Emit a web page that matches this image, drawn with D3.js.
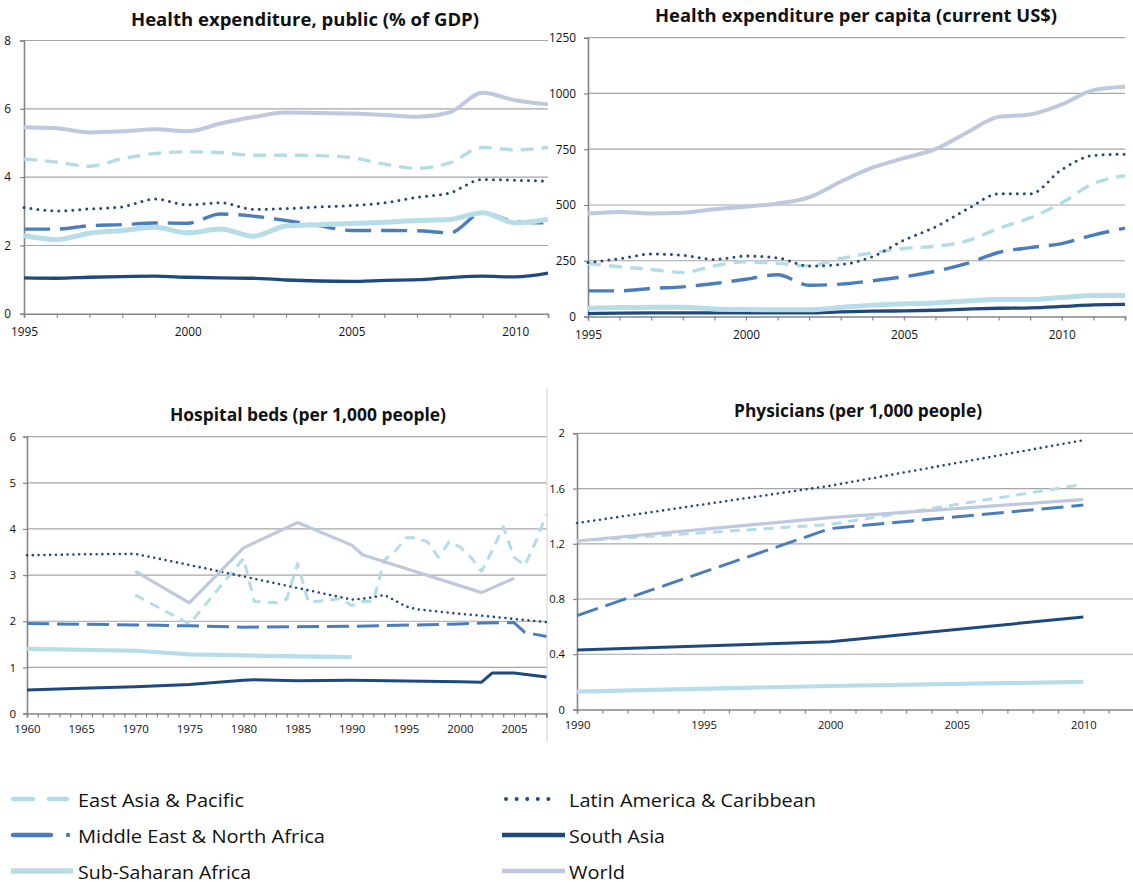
<!DOCTYPE html>
<html><head><meta charset="utf-8">
<script src="https://cdn.jsdelivr.net/npm/d3@7"></script>
<style>
body{margin:0;background:#fff}
svg{display:block}
text{font-family:"Open Sans",sans-serif;fill:#111}
</style>
</head><body>
<svg id="c" width="1133" height="882"></svg>
<script>
// ---------- DATA ----------
const regions = ["East Asia & Pacific","Latin America & Caribbean","Middle East & North Africa","South Asia","Sub-Saharan Africa","World"];

// Panel 1: Health expenditure, public (% of GDP)
const gdpYears = [1995,1996,1997,1998,1999,2000,2001,2002,2003,2004,2005,2006,2007,2008,2009,2010,2011];
const gdpEastAsia   = [4.53,4.44,4.32,4.54,4.69,4.74,4.72,4.64,4.64,4.63,4.57,4.38,4.26,4.42,4.87,4.80,4.87];
const gdpLatin      = [3.11,3.01,3.07,3.13,3.36,3.19,3.25,3.06,3.08,3.13,3.17,3.25,3.41,3.54,3.93,3.91,3.88];
const gdpMidEast    = [2.48,2.48,2.58,2.61,2.66,2.65,2.92,2.86,2.73,2.58,2.44,2.44,2.43,2.37,2.96,2.70,2.66];
const gdpSouthAsia  = [1.05,1.04,1.07,1.09,1.10,1.07,1.05,1.04,0.99,0.96,0.95,0.98,1.00,1.06,1.10,1.08,1.19];
const gdpSubSaharan = [2.29,2.17,2.36,2.44,2.53,2.37,2.48,2.27,2.57,2.61,2.64,2.68,2.73,2.76,2.96,2.66,2.77];
const gdpWorld      = [5.46,5.43,5.31,5.34,5.40,5.34,5.57,5.76,5.89,5.88,5.86,5.82,5.77,5.90,6.47,6.25,6.13];
const gdpYTicks = [0,2,4,6,8];
const gdpXLabels = [1995,2000,2005,2010];

// Panel 2: Health expenditure per capita (current US$)
const pcYears = [1995,1996,1997,1998,1999,2000,2001,2002,2003,2004,2005,2006,2007,2008,2009,2010,2011,2012];
const pcEastAsia   = [238,223,211,197,227,245,238,227,260,285,305,315,339,395,442,510,596,631];
const pcLatin      = [242,259,280,275,256,271,263,226,233,268,342,402,481,550,550,659,722,728];
const pcMidEast    = [115,115,126,133,148,167,187,140,145,160,178,203,238,287,309,327,365,396];
const pcSouthAsia  = [13,15,16,16,16,16,16,16,21,24,25,28,33,37,39,45,52,54];
const pcSubSaharan = [37,40,42,42,34,31,30,30,40,51,57,61,69,76,76,85,94,94];
const pcWorld      = [462,469,462,465,481,492,507,534,604,667,710,750,825,895,906,951,1015,1030];
const pcYTicks = [0,250,500,750,1000,1250];
const pcXLabels = [1995,2000,2005,2010];

// Panel 3: Hospital beds (per 1,000 people)  [year, value]
const bedsEastAsia = [[1970,2.57],[1975,1.94],[1980,3.36],[1981,2.43],[1983,2.40],[1984,2.48],[1985,3.25],[1986,2.41],[1989,2.49],[1990,2.34],[1991,2.43],[1992,2.43],[1993,3.32],[1994,3.51],[1995,3.81],[1996,3.81],[1997,3.72],[1998,3.39],[1999,3.72],[2000,3.61],[2001,3.39],[2002,3.08],[2003,3.54],[2004,4.05],[2005,3.39],[2006,3.21],[2007,3.72],[2008,4.32]];
const bedsLatin = [[1960,3.43],[1965,3.45],[1970,3.46],[1975,3.22],[1980,2.97],[1985,2.72],[1990,2.47],[1991,2.49],[1992,2.52],[1993,2.57],[1994,2.45],[1995,2.32],[1996,2.26],[2000,2.16],[2002,2.12],[2005,2.05],[2008,1.98]];
const bedsMidEast = [[1960,1.95],[1970,1.92],[1975,1.90],[1980,1.87],[1985,1.88],[1990,1.89],[2000,1.94],[2002,1.96],[2005,1.97],[2006,1.76],[2008,1.67]];
const bedsSouthAsia = [[1960,0.51],[1965,0.55],[1970,0.58],[1975,0.63],[1980,0.72],[1981,0.73],[1985,0.71],[1990,0.72],[2000,0.69],[2002,0.68],[2003,0.88],[2005,0.88],[2008,0.79]];
const bedsSubSaharan = [[1960,1.40],[1970,1.36],[1975,1.28],[1980,1.26],[1985,1.24],[1990,1.22]];
const bedsWorld = [[1970,3.08],[1975,2.40],[1980,3.59],[1985,4.14],[1990,3.65],[1991,3.44],[2002,2.62],[2005,2.93]];
const bedsYTicks = [0,1,2,3,4,5,6];
const bedsXLabels = [1960,1965,1970,1975,1980,1985,1990,1995,2000,2005];

// Panel 4: Physicians (per 1,000 people)  [year, value]
const physEastAsia   = [[1990,1.22],[2000,1.34],[2010,1.63]];
const physLatin      = [[1990,1.35],[2000,1.62],[2010,1.95]];
const physMidEast    = [[1990,0.68],[2000,1.31],[2010,1.48]];
const physSouthAsia  = [[1990,0.43],[2000,0.49],[2010,0.67]];
const physSubSaharan = [[1990,0.13],[2000,0.17],[2010,0.20]];
const physWorld      = [[1990,1.22],[2000,1.39],[2010,1.52]];
const physYTicks = [0,0.4,0.8,1.2,1.6,2];
const physXLabels = [1990,1995,2000,2005,2010];

// ---------- STYLES ----------
const colors = ["#B4DCE8","#23497E","#4A7EBB","#1F497D","#B7DEE8","#BEC8DF"];
const stylesBig = [
  {w:3.4, dash:"13,8", cap:"butt"},
  {w:3.0, dash:"0,7", cap:"round"},
  {w:3.4, dash:"26,10", cap:"butt"},
  {w:3.3, dash:null, cap:"butt"},
  {w:5.0, dash:null, cap:"butt"},
  {w:4.0, dash:null, cap:"butt"}
];
const stylesSmall = [
  {w:3.0, dash:"10,7", cap:"butt"},
  {w:2.6, dash:"0,5.8", cap:"round"},
  {w:3.0, dash:"22,8", cap:"butt"},
  {w:3.0, dash:null, cap:"butt"},
  {w:4.2, dash:null, cap:"butt"},
  {w:3.2, dash:null, cap:"butt"}
];

const svg = d3.select("#c");
const zip = (xs, ys) => xs.map((d,i)=>[d, ys[i]]);
const range = (a,b) => d3.range(a, b+1);

function drawPanel(cfg){
  const x = d3.scaleLinear().domain(cfg.xDomain).range([cfg.left, cfg.right]);
  const y = d3.scaleLinear().domain(cfg.yDomain).range([cfg.bottom, cfg.top]);
  const g = svg.append("g");

  g.selectAll("line.grid").data(cfg.yTicks.filter(d=>d>0)).join("line")
    .attr("x1", cfg.left).attr("x2", cfg.right)
    .attr("y1", d=>y(d)).attr("y2", d=>y(d))
    .attr("stroke", "#A6A6A6").attr("stroke-width", 1.2);

  const ya = g.append("g").attr("transform", `translate(${cfg.left},0)`)
    .call(d3.axisLeft(y).tickValues(cfg.yTicks).tickSize(4).tickPadding(cfg.yPad)
      .tickFormat(cfg.yFmt || (d=>d)));
  ya.select(".domain").attr("stroke","#868686").attr("stroke-width",1.6);
  ya.selectAll(".tick line").attr("stroke","#868686").attr("stroke-width",1.2);
  ya.selectAll(".tick text").attr("font-size", cfg.fs).attr("font-family","Open Sans").attr("fill","#111");

  const xa = g.append("g").attr("transform", `translate(0,${cfg.bottom})`)
    .call(d3.axisBottom(x).tickValues(range(cfg.xDomain[0], cfg.xDomain[1])).tickSize(4).tickPadding(cfg.xPad)
      .tickFormat(d => cfg.xLabels.includes(d) ? String(d) : ""));
  xa.select(".domain").attr("stroke","#868686").attr("stroke-width",1.6);
  xa.selectAll(".tick line").attr("stroke","#868686").attr("stroke-width",1.2);
  xa.selectAll(".tick text").attr("font-size", cfg.fs).attr("font-family","Open Sans").attr("fill","#111");

  const line = d3.line().x(d=>x(d[0])).y(d=>y(d[1])).curve(cfg.curve || d3.curveLinear);
  cfg.series.forEach((s,i)=>{
    const st = cfg.styles[i];
    g.append("path").datum(s)
      .attr("d", line)
      .attr("fill","none")
      .attr("stroke", colors[i])
      .attr("stroke-width", st.w)
      .attr("stroke-dasharray", st.dash)
      .attr("stroke-linecap", st.cap)
      .attr("stroke-linejoin","round");
  });

  g.append("text").attr("x", cfg.titleX).attr("y", cfg.titleY)
    .attr("text-anchor","middle").attr("dominant-baseline","central")
    .attr("font-weight","bold").attr("font-size", 17)
    .attr("textLength", cfg.titleW).attr("lengthAdjust","spacingAndGlyphs")
    .text(cfg.title);
}

svg.append("line").attr("x1",547).attr("x2",547).attr("y1",388).attr("y2",742)
  .attr("stroke","#D0D0D0").attr("stroke-width",1);

drawPanel({
  title:"Health expenditure, public (% of GDP)", titleX:305, titleY:19, titleW:348,
  left:24, right:548, top:40.5, bottom:313.8,
  xDomain:[1995,2011], yDomain:[0,8], yTicks:gdpYTicks, xLabels:gdpXLabels,
  yPad:9, xPad:10, fs:11.8, styles:stylesBig, curve:d3.curveMonotoneX,
  series:[zip(gdpYears,gdpEastAsia),zip(gdpYears,gdpLatin),zip(gdpYears,gdpMidEast),
          zip(gdpYears,gdpSouthAsia),zip(gdpYears,gdpSubSaharan),zip(gdpYears,gdpWorld)]
});

drawPanel({
  title:"Health expenditure per capita (current US$)", titleX:856, titleY:15, titleW:402,
  left:588, right:1125, top:37.7, bottom:316.5,
  xDomain:[1995,2012], yDomain:[0,1250], yTicks:pcYTicks, xLabels:pcXLabels,
  yPad:8, xPad:10, fs:11.8, styles:stylesBig, curve:d3.curveMonotoneX,
  series:[zip(pcYears,pcEastAsia),zip(pcYears,pcLatin),zip(pcYears,pcMidEast),
          zip(pcYears,pcSouthAsia),zip(pcYears,pcSubSaharan),zip(pcYears,pcWorld)]
});

drawPanel({
  title:"Hospital beds (per 1,000 people)", titleX:308, titleY:414, titleW:276,
  left:27, right:546.5, top:436.7, bottom:713.5,
  xDomain:[1960,2008], yDomain:[0,6], yTicks:bedsYTicks, xLabels:bedsXLabels,
  yPad:7, xPad:7, fs:11.5, styles:stylesSmall,
  series:[bedsEastAsia,bedsLatin,bedsMidEast,bedsSouthAsia,bedsSubSaharan,bedsWorld]
});

drawPanel({
  title:"Physicians (per 1,000 people)", titleX:858, titleY:410.5, titleW:248,
  left:577, right:1134, top:433.3, bottom:709.5,
  xDomain:[1990,2012], yDomain:[0,2], yTicks:physYTicks, xLabels:physXLabels,
  yPad:8, xPad:8, fs:11.2, styles:stylesSmall, yFmt:d=>String(d),
  series:[physEastAsia,physLatin,physMidEast,physSouthAsia,physSubSaharan,physWorld]
});

// ---------- LEGEND ----------
const legendPos = [
  {x1:11, x2:67, y:799, tx:78, tw:166},
  {x1:504, x2:558, y:799, tx:569, tw:247},
  {x1:11, x2:74, y:835, tx:78, tw:247},
  {x1:502, x2:565, y:835, tx:569, tw:96},
  {x1:11, x2:73, y:871, tx:78, tw:173},
  {x1:502, x2:565, y:871, tx:569, tw:56}
];
const legendStyles = [
  {w:4.5, dash:"20,16", cap:"round"},
  {w:4, dash:"0,10.6", cap:"round"},
  {w:4.5, dash:"38,17,0.1,100", cap:"round"},
  {w:4.5, dash:null, cap:"butt"},
  {w:5.5, dash:null, cap:"butt"},
  {w:4.5, dash:null, cap:"butt"}
];
const lg = svg.append("g");
regions.forEach((name,i)=>{
  const p = legendPos[i], st = legendStyles[i];
  lg.append("line").attr("x1",p.x1 + (st.cap==="round"?2:0)).attr("x2",p.x2).attr("y1",p.y).attr("y2",p.y)
    .attr("stroke",colors[i]).attr("stroke-width",st.w)
    .attr("stroke-dasharray",st.dash).attr("stroke-linecap",st.cap);
  lg.append("text").attr("x",p.tx).attr("y",p.y).attr("dominant-baseline","central")
    .attr("font-size",18.5).attr("textLength",p.tw).attr("lengthAdjust","spacingAndGlyphs")
    .text(name);
});
</script>
</body></html>
